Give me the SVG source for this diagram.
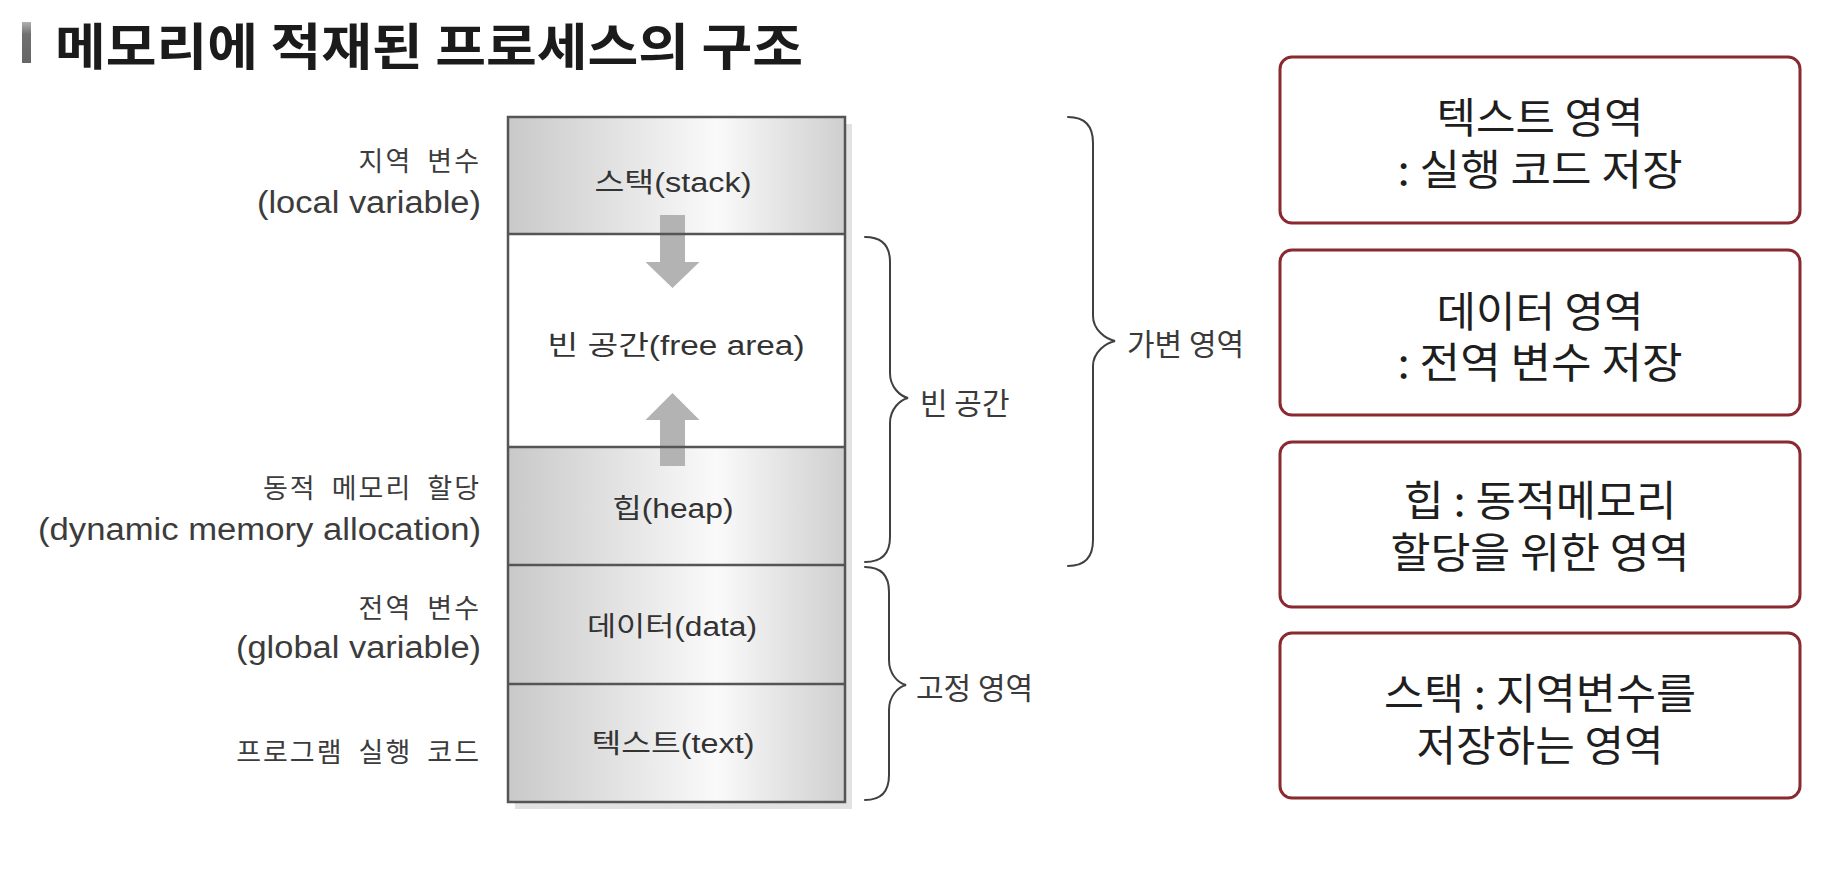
<svg xmlns="http://www.w3.org/2000/svg" width="1828" height="872" viewBox="0 0 1828 872">
  <defs>
    <linearGradient id="cellGrad" x1="0" y1="0" x2="1" y2="0">
      <stop offset="0" stop-color="#c9c9c9"/>
      <stop offset="0.62" stop-color="#fafafa"/>
      <stop offset="1" stop-color="#cfcfcf"/>
    </linearGradient>
    <linearGradient id="barGrad" x1="0" y1="0" x2="0" y2="1">
      <stop offset="0" stop-color="#b0b0b0"/>
      <stop offset="0.3" stop-color="#707070"/>
      <stop offset="1" stop-color="#666666"/>
    </linearGradient>
  </defs>
  <style>
    .lat { font-family: "Liberation Sans", "Noto Sans CJK KR", sans-serif; }
    .kr { font-family: "Noto Sans CJK KR", "Noto Sans", sans-serif; }
    text { dominant-baseline: central; }
    .left { text-anchor: end; fill: #3c3c3c; }
    .lk { font-size: 27px; letter-spacing: 2px; word-spacing: 7px; }
    .ll { font-size: 31px; }
    .cell { fill: url(#cellGrad); stroke: none; }
    .free { fill: #ffffff; stroke: none; }
    .sep { stroke: #555555; stroke-width: 2.5; fill: none; }
    .clabel { font-size: 27px; text-anchor: middle; fill: #333333; }
    .arrow { fill: #b3b3b3; stroke: none; }
    .brace { fill: none; stroke: #404040; stroke-width: 2; stroke-linecap: round; }
    .blabel { font-size: 30px; fill: #3a3a3a; }
    .rbox { fill: #ffffff; stroke: #882a2f; stroke-width: 3; }
    .rtext { font-size: 42px; text-anchor: middle; fill: #1e1e1e; }
  </style>

  <rect x="0" y="0" width="1828" height="872" fill="#ffffff"/>

  <g id="title">
    <rect x="22" y="22" width="9" height="41" fill="url(#barGrad)"/>
    <text class="kr" x="55" y="43" font-size="50" font-weight="bold" fill="#1b1b1b" textLength="748" lengthAdjust="spacingAndGlyphs">메모리에 적재된 프로세스의 구조</text>
  </g>

  <g id="memory-layout">
    <rect x="515" y="124" width="337" height="685" fill="#e2e2e2"/>
    <g id="cell-stack">
      <rect class="cell" x="508" y="117" width="337" height="117"/>
      <text class="clabel lat" x="673" y="183" textLength="157" lengthAdjust="spacingAndGlyphs">스택(stack)</text>
    </g>
    <g id="cell-free">
      <rect class="free" x="508" y="234" width="337" height="213"/>
      <text class="clabel lat" x="676" y="346" textLength="257" lengthAdjust="spacingAndGlyphs">빈 공간(free area)</text>
    </g>
    <g id="cell-heap">
      <rect class="cell" x="508" y="447" width="337" height="118"/>
      <text class="clabel lat" x="673" y="509" textLength="121" lengthAdjust="spacingAndGlyphs">힙(heap)</text>
    </g>
    <g id="cell-data">
      <rect class="cell" x="508" y="565" width="337" height="119"/>
      <text class="clabel lat" x="672" y="627" textLength="170" lengthAdjust="spacingAndGlyphs">데이터(data)</text>
    </g>
    <g id="cell-text">
      <rect class="cell" x="508" y="684" width="337" height="118"/>
      <text class="clabel lat" x="673" y="744" textLength="163" lengthAdjust="spacingAndGlyphs">텍스트(text)</text>
    </g>
  </g>

  <g id="connectors">
    <polygon id="arrow-down" class="arrow" points="660,215 685,215 685,262 699.5,262 672.5,288 645.5,262 660,262"/>
    <polygon id="arrow-up" class="arrow" points="672.5,393 699.5,420 685,420 685,466 660,466 660,420 645.5,420"/>
    <g id="cell-lines">
      <rect class="sep" x="508" y="117" width="337" height="685"/>
      <line class="sep" x1="508" y1="234" x2="845" y2="234"/>
      <line class="sep" x1="508" y1="447" x2="845" y2="447"/>
      <line class="sep" x1="508" y1="565" x2="845" y2="565"/>
      <line class="sep" x1="508" y1="684" x2="845" y2="684"/>
    </g>
    <path id="brace-free" class="brace" d="M865,237 Q890,237 890,262 L890,373 C890,387 900,396 908,398 C900,400 890,409 890,423 L890,537 Q890,562 865,562"/>
    <path id="brace-fixed" class="brace" d="M865,567 Q889,567 889,592 L889,660 C889,674 898,683 906,685 C898,687 889,696 889,710 L889,775 Q889,800 865,800"/>
    <path id="brace-variable" class="brace" d="M1068,117 Q1093,117 1093,143 L1093,316 C1093,330 1106,339 1115,341 C1106,343 1093,352 1093,366 L1093,540 Q1093,566 1068,566"/>
  </g>

  <g id="left-labels">
    <g id="label-local">
      <text class="left kr lk" x="481" y="159">지역 변수</text>
      <text class="left lat ll" x="481" y="202" textLength="224" lengthAdjust="spacingAndGlyphs">(local variable)</text>
    </g>
    <g id="label-dynamic">
      <text class="left kr lk" x="481" y="486">동적 메모리 할당</text>
      <text class="left lat ll" x="481" y="529" textLength="443" lengthAdjust="spacingAndGlyphs">(dynamic memory allocation)</text>
    </g>
    <g id="label-global">
      <text class="left kr lk" x="481" y="606">전역 변수</text>
      <text class="left lat ll" x="481" y="647" textLength="245" lengthAdjust="spacingAndGlyphs">(global variable)</text>
    </g>
    <g id="label-code">
      <text class="left kr lk" x="481" y="750">프로그램 실행 코드</text>
    </g>
  </g>

  <g id="brace-labels">
    <text id="label-free" class="blabel kr" x="920" y="401">빈 공간</text>
    <text id="label-fixed" class="blabel kr" x="916" y="686">고정 영역</text>
    <text id="label-variable" class="blabel kr" x="1127" y="342">가변 영역</text>
  </g>

  <g id="box-text">
    <rect class="rbox" x="1280" y="57" width="520" height="166" rx="12"/>
    <text class="rtext kr"><tspan x="1540" y="114" textLength="207" lengthAdjust="spacingAndGlyphs">텍스트 영역</tspan><tspan x="1540" y="166" textLength="285" lengthAdjust="spacingAndGlyphs">: 실행 코드 저장</tspan></text>
  </g>
  <g id="box-data">
    <rect class="rbox" x="1280" y="250" width="520" height="165" rx="12"/>
    <text class="rtext kr"><tspan x="1540" y="308" textLength="207" lengthAdjust="spacingAndGlyphs">데이터 영역</tspan><tspan x="1540" y="359" textLength="285" lengthAdjust="spacingAndGlyphs">: 전역 변수 저장</tspan></text>
  </g>
  <g id="box-heap">
    <rect class="rbox" x="1280" y="442" width="520" height="165" rx="12"/>
    <text class="rtext kr"><tspan x="1540" y="497" textLength="273" lengthAdjust="spacingAndGlyphs">힙 : 동적메모리</tspan><tspan x="1540" y="549" textLength="299" lengthAdjust="spacingAndGlyphs">할당을 위한 영역</tspan></text>
  </g>
  <g id="box-stack">
    <rect class="rbox" x="1280" y="633" width="520" height="165" rx="12"/>
    <text class="rtext kr"><tspan x="1540" y="690" textLength="312" lengthAdjust="spacingAndGlyphs">스택 : 지역변수를</tspan><tspan x="1540" y="742" textLength="247" lengthAdjust="spacingAndGlyphs">저장하는 영역</tspan></text>
  </g>
</svg>
